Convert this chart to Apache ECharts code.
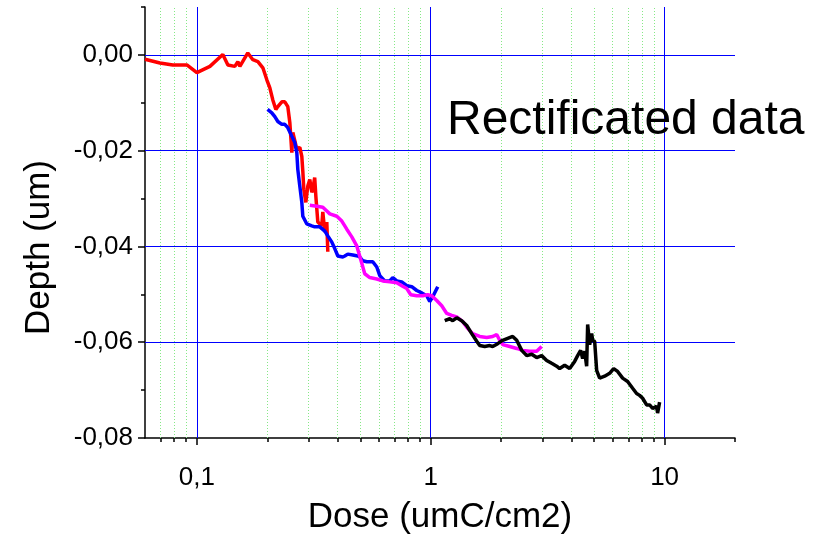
<!DOCTYPE html>
<html><head><meta charset="utf-8">
<script src="https://cdn.jsdelivr.net/npm/echarts@6/dist/echarts.min.js"></script>
<style>html,body{margin:0;padding:0;background:#fff}#c{width:819px;height:540px}</style>
</head><body><div id="c"></div>
<script>
// ---- data (dose in umC/cm2, depth in um) ----
const redDose = [0.060,0.0695,0.0789,0.0906,0.100,0.1137,0.1291,0.1357,0.1453,0.1497,0.1527,0.1651,0.1735,0.1823,0.1915,0.1991,0.2051,0.2112,0.2176,0.2219,0.2308,0.2377,0.2448,0.2497,0.2547,0.2572,0.2675,0.2755,0.2810,0.2838,0.2866,0.2923,0.2981,0.3040,0.3100,0.3130,0.3190,0.3226,0.3290,0.3420,0.3455,0.3524,0.3594,0.3629];
const redDepth = [-0.0009,-0.0017,-0.0021,-0.0021,-0.0037,-0.0024,0.0001,-0.0021,-0.0024,-0.0014,-0.0024,0.0004,-0.0010,-0.0014,-0.0027,-0.0052,-0.0069,-0.0094,-0.0114,-0.0108,-0.0098,-0.0098,-0.0108,-0.0141,-0.0204,-0.0162,-0.0197,-0.0193,-0.0212,-0.0243,-0.0281,-0.0308,-0.0274,-0.0260,-0.0287,-0.0281,-0.0256,-0.0295,-0.0349,-0.0357,-0.0328,-0.0370,-0.0349,-0.0411];

const blueDose = [0.2005,0.2091,0.2154,0.2219,0.2308,0.2377,0.2448,0.2547,0.2623,0.2675,0.2701,0.2755,0.2810,0.2838,0.2952,0.3100,0.3190,0.3355,0.3524,0.3629,0.3776,0.3890,0.4006,0.4085,0.4206,0.4290,0.4418,0.4642,0.4876,0.4973,0.5123,0.5328,0.5651,0.5878,0.6055,0.6359,0.6680,0.6880,0.7155,0.7516,0.7898,0.8294,0.8713,0.9153,0.9614,0.9902,1.0199,1.0713];
const blueDepth = [-0.0114,-0.0121,-0.0129,-0.0139,-0.0145,-0.0145,-0.0152,-0.0170,-0.0183,-0.0204,-0.0239,-0.0274,-0.0308,-0.0337,-0.0353,-0.0357,-0.0359,-0.0359,-0.0368,-0.0378,-0.0391,-0.0405,-0.0420,-0.0422,-0.0422,-0.0420,-0.0416,-0.0418,-0.0420,-0.0422,-0.0430,-0.0432,-0.0432,-0.0443,-0.0461,-0.0472,-0.0472,-0.0465,-0.0472,-0.0474,-0.0482,-0.0484,-0.0492,-0.0497,-0.0503,-0.0515,-0.0505,-0.0484];

const magentaDose = [0.3040,0.3258,0.3455,0.3594,0.3702,0.3966,0.4166,0.4375,0.4596,0.4828,0.5022,0.5222,0.5486,0.5878,0.6236,0.6680,0.7155,0.7516,0.7898,0.8214,0.8713,0.9243,0.9709,1.0099,1.0608,1.1143,1.1707,1.2297,1.2915,1.3702,1.4392,1.5115,1.6197,1.7351,1.8405,1.9145,1.9718,2.0309,2.1761,2.3314,2.4731,2.6489,2.8379,2.9804];
const magentaDepth = [-0.0314,-0.0316,-0.0318,-0.0326,-0.0332,-0.0337,-0.0347,-0.0364,-0.0380,-0.0399,-0.0428,-0.0457,-0.0465,-0.0468,-0.0472,-0.0474,-0.0476,-0.0482,-0.0488,-0.0501,-0.0503,-0.0503,-0.0501,-0.0503,-0.0513,-0.0524,-0.0540,-0.0544,-0.0547,-0.0557,-0.0571,-0.0582,-0.0588,-0.0590,-0.0588,-0.0584,-0.0596,-0.0605,-0.0609,-0.0613,-0.0617,-0.0619,-0.0619,-0.0609];

const blackDose = [1.1477,1.2057,1.2417,1.2915,1.3565,1.4251,1.4970,1.5726,1.6197,1.7013,1.7872,1.8405,1.9334,2.0309,2.1334,2.2411,2.3314,2.4490,2.5725,2.7023,2.8379,2.9804,3.1310,3.2890,3.4558,3.5584,3.7381,3.9266,4.1246,4.2480,4.3753,4.4626,4.5514,4.6416,4.6880,4.7810,4.8760,4.9245,5.0225,5.1224,5.2756,5.5418,5.8210,6.0540,6.2970,6.6150,6.9480,7.2990,7.5910,7.8200,8.0540,8.3770,8.6280,8.8870,9.2430,9.3340,9.5190];
const blackDepth = [-0.0555,-0.0551,-0.0555,-0.0549,-0.0555,-0.0565,-0.0582,-0.0598,-0.0607,-0.0609,-0.0607,-0.0609,-0.0603,-0.0596,-0.0592,-0.0588,-0.0596,-0.0617,-0.0628,-0.0625,-0.0632,-0.0628,-0.0638,-0.0644,-0.0650,-0.0655,-0.0648,-0.0655,-0.0640,-0.0628,-0.0617,-0.0634,-0.0619,-0.0650,-0.0563,-0.0605,-0.0582,-0.0596,-0.0598,-0.0659,-0.0675,-0.0671,-0.0665,-0.0655,-0.0661,-0.0675,-0.0682,-0.0696,-0.0707,-0.0711,-0.0717,-0.0731,-0.0731,-0.0738,-0.0734,-0.0748,-0.0725];

// ---- ticks / grid values ----
const xMajorTicks = [0.1, 1, 10];
const xMinorTicks = [0.07,0.08,0.09,0.2,0.3,0.4,0.5,0.6,0.7,0.8,0.9,2,3,4,5,6,7,8,9,20];
const xGridMinor = [0.07,0.08,0.09,0.2,0.3,0.4,0.5,0.6,0.7,0.8,0.9,2,3,4,5,6,7,8,9];
const yMajorTicks = [-0.08,-0.06,-0.04,-0.02,0];
const yMinorTicks = [-0.07,-0.05,-0.03,-0.01,0.01];
const yGridMajor = [-0.06,-0.04,-0.02,0];

const FONT = "'Liberation Sans', Arial, sans-serif";
const zip = (xs, ys) => xs.map((x, i) => [x, ys[i]]);
const axisColor = '#000';

const chart = echarts.init(document.getElementById('c'), null, {renderer: 'canvas'});

function curve(name, color, xs, ys) {
  return {
    type: 'line', name, data: zip(xs, ys), showSymbol: false, symbol: 'none',
    lineStyle: {color, width: 3.5}, itemStyle: {color}, z: 5, silent: true,
    emphasis: {disabled: true}, animation: false
  };
}

const gridLines = [];
xGridMinor.forEach(v => gridLines.push({xAxis: v, lineStyle: {color: '#86e886', width: 1, type: [1, 2]}}));
xMajorTicks.forEach(v => gridLines.push({xAxis: v, lineStyle: {color: '#0000ff', width: 1, type: 'solid'}}));
yGridMajor.forEach(v => gridLines.push({yAxis: v, lineStyle: {color: '#0000ff', width: 1, type: 'solid'}}));

chart.setOption({
  animation: false,
  backgroundColor: '#fff',
  grid: {left: 145, right: 84, top: 7, bottom: 100, containLabel: false},
  xAxis: [
    {
      type: 'log', logBase: 10, min: 0.06, max: 20, position: 'bottom', gridIndex: 0,
      axisLine: {show: true, onZero: false, lineStyle: {color: axisColor, width: 1.5}},
      axisTick: {show: true, customValues: xMajorTicks, length: 7, lineStyle: {color: axisColor, width: 1.5}},
      axisLabel: {customValues: xMajorTicks, fontSize: 26, color: '#000', fontFamily: FONT, margin: 27,
        formatter: v => String(+v.toPrecision(6)).replace('.', ',')},
      splitLine: {show: false}, minorTick: {show: false}, minorSplitLine: {show: false},
      name: 'Dose (umC/cm2)', nameLocation: 'middle', nameGap: 62,
      nameTextStyle: {fontSize: 35, color: '#000', fontFamily: FONT}
    },
    {
      type: 'log', logBase: 10, min: 0.06, max: 20, position: 'bottom', gridIndex: 0,
      axisLine: {show: false, onZero: false},
      axisTick: {show: true, customValues: xMinorTicks, length: 4, lineStyle: {color: axisColor, width: 1.5}},
      axisLabel: {show: false}, splitLine: {show: false}
    }
  ],
  yAxis: [
    {
      type: 'value', min: -0.08, max: 0.01, position: 'left', gridIndex: 0,
      axisLine: {show: true, onZero: false, lineStyle: {color: axisColor, width: 1.5}},
      axisTick: {show: true, customValues: yMajorTicks, length: 7, lineStyle: {color: axisColor, width: 1.5}},
      axisLabel: {customValues: yMajorTicks, fontSize: 26, color: '#000', fontFamily: FONT, margin: 12,
        formatter: v => (Math.abs(v) < 1e-9 ? 0 : v).toFixed(2).replace('.', ',')},
      splitLine: {show: false},
      name: 'Depth (um)', nameLocation: 'middle', nameGap: 88,
      nameTextStyle: {fontSize: 35, color: '#000', fontFamily: FONT, padding: [0, 50, 0, 0]}
    },
    {
      type: 'value', min: -0.08, max: 0.01, position: 'left', gridIndex: 0,
      axisLine: {show: false, onZero: false},
      axisTick: {show: true, customValues: yMinorTicks, length: 4, lineStyle: {color: axisColor, width: 1.5}},
      axisLabel: {show: false}, splitLine: {show: false}
    }
  ],
  graphic: [{
    type: 'text', left: 447, top: 97, z: 100, silent: true,
    style: {text: 'Rectificated data', font: '48px ' + FONT, fill: '#000'}
  }],
  series: [
    {
      type: 'line', name: 'gridlines', data: [], silent: true, z: 1, animation: false,
      markLine: {silent: true, symbol: ['none', 'none'], label: {show: false}, animation: false,
        emphasis: {disabled: true}, data: gridLines}
    },
    curve('red', '#ff0000', redDose, redDepth),
    curve('blue', '#0000ff', blueDose, blueDepth),
    curve('magenta', '#ff00ff', magentaDose, magentaDepth),
    curve('black', '#000000', blackDose, blackDepth)
  ]
});
</script>
</body></html>
